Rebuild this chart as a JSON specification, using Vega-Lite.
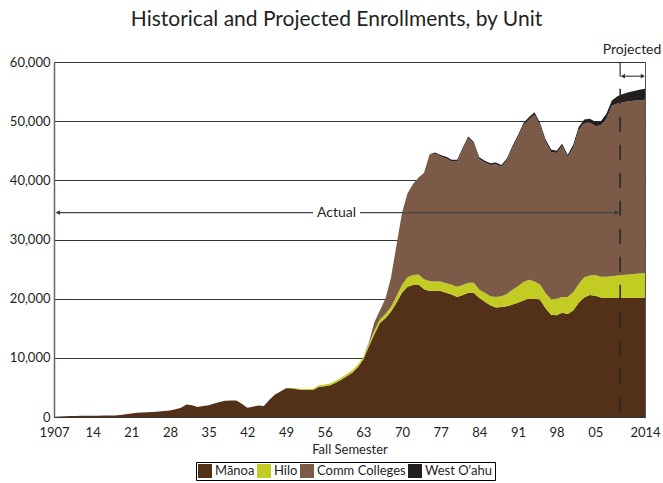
{
  "$schema": "https://vega.github.io/schema/vega-lite/v6.json",
  "width": 591,
  "height": 355,
  "autosize": {"type": "none"},
  "padding": {"left": 54, "top": 62, "right": 18, "bottom": 66},
  "background": "white",
  "config": {
    "font": "Lato",
    "view": {"stroke": "#555", "strokeWidth": 1},
    "axis": {"labelColor": "#231f20", "titleColor": "#231f20", "labelFont": "Lato", "titleFont": "Lato", "labelOverlap": false},
    "axisX": {"labelOverlap": false, "labelFlush": false, "labelBound": false},
    "axisY": {"labelOverlap": false, "labelFlush": false},
    "legend": {"labelFont": "Lato", "labelColor": "#231f20"}
  },
  "title": {
    "text": "Historical and Projected Enrollments, by Unit",
    "fontSize": 21,
    "fontWeight": "normal",
    "font": "Lato",
    "color": "#231f20",
    "anchor": "middle",
    "frame": "group",
    "dx": -13,
    "offset": 13
  },
  "encoding": {
    "x": {
      "field": "yr", "type": "quantitative",
      "scale": {"domain": [1907, 2014], "nice": false, "zero": false},
      "axis": {
        "values": [1907,1914,1921,1928,1935,1942,1949,1956,1963,1970,1977,1984,1991,1998,2005,2014],
        "format": "d",
        "labelExpr": "datum.value == 1907 || datum.value == 2014 ? datum.label : slice(datum.label, 2)",
        "title": "Fall Semester",
        "grid": false, "ticks": false, "domain": false,
        "labelFontSize": 13, "labelPadding": 9, "labelFlush": false, "labelOverlap": false, "labelBound": false,
        "titleFontSize": 13, "titleFontWeight": "normal", "titlePadding": 4
      }
    }
  },
  "layer": [
    {
      "data": {"values": [
        {"yr":1907,"a":50,"b":0,"c":0,"d":0},
        {"yr":1908,"a":100,"b":0,"c":0,"d":0},
        {"yr":1909,"a":120,"b":0,"c":0,"d":0},
        {"yr":1910,"a":150,"b":0,"c":0,"d":0},
        {"yr":1911,"a":170,"b":0,"c":0,"d":0},
        {"yr":1912,"a":200,"b":0,"c":0,"d":0},
        {"yr":1913,"a":210,"b":0,"c":0,"d":0},
        {"yr":1914,"a":220,"b":0,"c":0,"d":0},
        {"yr":1915,"a":230,"b":0,"c":0,"d":0},
        {"yr":1916,"a":240,"b":0,"c":0,"d":0},
        {"yr":1917,"a":250,"b":0,"c":0,"d":0},
        {"yr":1918,"a":270,"b":0,"c":0,"d":0},
        {"yr":1919,"a":350,"b":0,"c":0,"d":0},
        {"yr":1920,"a":450,"b":0,"c":0,"d":0},
        {"yr":1921,"a":600,"b":0,"c":0,"d":0},
        {"yr":1922,"a":700,"b":0,"c":0,"d":0},
        {"yr":1923,"a":750,"b":0,"c":0,"d":0},
        {"yr":1924,"a":800,"b":0,"c":0,"d":0},
        {"yr":1925,"a":850,"b":0,"c":0,"d":0},
        {"yr":1926,"a":950,"b":0,"c":0,"d":0},
        {"yr":1927,"a":1000,"b":0,"c":0,"d":0},
        {"yr":1928,"a":1100,"b":0,"c":0,"d":0},
        {"yr":1929,"a":1300,"b":0,"c":0,"d":0},
        {"yr":1930,"a":1550,"b":0,"c":0,"d":0},
        {"yr":1931,"a":2100,"b":0,"c":0,"d":0},
        {"yr":1932,"a":2000,"b":0,"c":0,"d":0},
        {"yr":1933,"a":1700,"b":0,"c":0,"d":0},
        {"yr":1934,"a":1850,"b":0,"c":0,"d":0},
        {"yr":1935,"a":2000,"b":0,"c":0,"d":0},
        {"yr":1936,"a":2300,"b":0,"c":0,"d":0},
        {"yr":1937,"a":2550,"b":0,"c":0,"d":0},
        {"yr":1938,"a":2750,"b":0,"c":0,"d":0},
        {"yr":1939,"a":2800,"b":0,"c":0,"d":0},
        {"yr":1940,"a":2800,"b":0,"c":0,"d":0},
        {"yr":1941,"a":2250,"b":0,"c":0,"d":0},
        {"yr":1942,"a":1550,"b":0,"c":0,"d":0},
        {"yr":1943,"a":1750,"b":0,"c":0,"d":0},
        {"yr":1944,"a":1950,"b":0,"c":0,"d":0},
        {"yr":1945,"a":1850,"b":0,"c":0,"d":0},
        {"yr":1946,"a":2900,"b":0,"c":0,"d":0},
        {"yr":1947,"a":3800,"b":0,"c":0,"d":0},
        {"yr":1948,"a":4300,"b":0,"c":0,"d":0},
        {"yr":1949,"a":4850,"b":0,"c":0,"d":0},
        {"yr":1950,"a":4850,"b":50,"c":0,"d":0},
        {"yr":1951,"a":4700,"b":100,"c":0,"d":0},
        {"yr":1952,"a":4600,"b":150,"c":0,"d":0},
        {"yr":1953,"a":4550,"b":200,"c":0,"d":0},
        {"yr":1954,"a":4600,"b":220,"c":0,"d":0},
        {"yr":1955,"a":5100,"b":250,"c":0,"d":0},
        {"yr":1956,"a":5200,"b":280,"c":0,"d":0},
        {"yr":1957,"a":5350,"b":300,"c":0,"d":0},
        {"yr":1958,"a":5800,"b":320,"c":0,"d":0},
        {"yr":1959,"a":6300,"b":350,"c":0,"d":0},
        {"yr":1960,"a":6900,"b":370,"c":0,"d":0},
        {"yr":1961,"a":7500,"b":400,"c":0,"d":0},
        {"yr":1962,"a":8400,"b":420,"c":0,"d":0},
        {"yr":1963,"a":9700,"b":450,"c":0,"d":0},
        {"yr":1964,"a":11900,"b":500,"c":200,"d":0},
        {"yr":1965,"a":14000,"b":600,"c":1400,"d":0},
        {"yr":1966,"a":15900,"b":600,"c":1500,"d":0},
        {"yr":1967,"a":16700,"b":700,"c":2600,"d":0},
        {"yr":1968,"a":17800,"b":800,"c":4900,"d":0},
        {"yr":1969,"a":19300,"b":1100,"c":8600,"d":0},
        {"yr":1970,"a":21000,"b":1300,"c":12200,"d":0},
        {"yr":1971,"a":22000,"b":1600,"c":14200,"d":0},
        {"yr":1972,"a":22300,"b":1700,"c":15400,"d":0},
        {"yr":1973,"a":22400,"b":1700,"c":16400,"d":0},
        {"yr":1974,"a":21600,"b":1700,"c":18000,"d":0},
        {"yr":1975,"a":21300,"b":1700,"c":21400,"d":0},
        {"yr":1976,"a":21300,"b":1600,"c":21600,"d":200},
        {"yr":1977,"a":21300,"b":1600,"c":21150,"d":250},
        {"yr":1978,"a":21000,"b":1600,"c":21100,"d":300},
        {"yr":1979,"a":20700,"b":1650,"c":20850,"d":300},
        {"yr":1980,"a":20300,"b":1700,"c":21200,"d":300},
        {"yr":1981,"a":20600,"b":1700,"c":22900,"d":300},
        {"yr":1982,"a":21000,"b":1700,"c":24400,"d":300},
        {"yr":1983,"a":21000,"b":1700,"c":23500,"d":300},
        {"yr":1984,"a":20100,"b":1400,"c":22100,"d":300},
        {"yr":1985,"a":19500,"b":1500,"c":22000,"d":300},
        {"yr":1986,"a":18900,"b":1500,"c":22200,"d":300},
        {"yr":1987,"a":18500,"b":1800,"c":22400,"d":300},
        {"yr":1988,"a":18600,"b":1800,"c":21900,"d":300},
        {"yr":1989,"a":18700,"b":2100,"c":22600,"d":300},
        {"yr":1990,"a":19000,"b":2500,"c":23950,"d":350},
        {"yr":1991,"a":19300,"b":2800,"c":25150,"d":350},
        {"yr":1992,"a":19700,"b":3100,"c":26550,"d":350},
        {"yr":1993,"a":20000,"b":3200,"c":27100,"d":400},
        {"yr":1994,"a":20000,"b":2900,"c":28200,"d":400},
        {"yr":1995,"a":19800,"b":2600,"c":26900,"d":400},
        {"yr":1996,"a":18400,"b":2500,"c":25600,"d":400},
        {"yr":1997,"a":17300,"b":2600,"c":24900,"d":400},
        {"yr":1998,"a":17200,"b":2800,"c":24600,"d":400},
        {"yr":1999,"a":17600,"b":2700,"c":25500,"d":400},
        {"yr":2000,"a":17400,"b":2900,"c":23600,"d":400},
        {"yr":2001,"a":18000,"b":3100,"c":24400,"d":500},
        {"yr":2002,"a":19300,"b":3200,"c":25950,"d":550},
        {"yr":2003,"a":20200,"b":3400,"c":26100,"d":600},
        {"yr":2004,"a":20600,"b":3300,"c":25850,"d":650},
        {"yr":2005,"a":20500,"b":3500,"c":25200,"d":700},
        {"yr":2006,"a":20200,"b":3500,"c":25550,"d":750},
        {"yr":2007,"a":20100,"b":3600,"c":26650,"d":850},
        {"yr":2008,"a":20100,"b":3700,"c":28800,"d":900},
        {"yr":2009,"a":20100,"b":3800,"c":29100,"d":1200},
        {"yr":2010,"a":20100,"b":3900,"c":29200,"d":1400},
        {"yr":2011,"a":20100,"b":4000,"c":29250,"d":1550},
        {"yr":2012,"a":20100,"b":4050,"c":29300,"d":1650},
        {"yr":2013,"a":20150,"b":4100,"c":29300,"d":1750},
        {"yr":2014,"a":20200,"b":4150,"c":29250,"d":1900}
      ]},
      "transform": [{"fold": ["a", "b", "c", "d"], "as": ["unit", "n"]}],
      "mark": {"type": "area", "interpolate": "linear"},
      "encoding": {
        "y": {
          "field": "n", "type": "quantitative", "stack": "zero",
          "scale": {"domain": [0, 60000], "nice": false},
          "axis": {
            "values": [0,10000,20000,30000,40000,50000,60000],
            "format": ",d", "title": null,
            "grid": true, "gridColor": "#333", "gridWidth": 1,
            "ticks": false, "domainColor": "#666", "domainWidth": 1.5,
            "labelFontSize": 13, "labelPadding": 4, "labelFlush": false, "labelOverlap": false
          }
        },
        "order": {"field": "unit", "sort": "ascending"},
        "color": {
          "field": "unit", "type": "nominal",
          "scale": {"domain": ["a", "b", "c", "d"], "range": ["#533119", "#c3cc22", "#7b5b47", "#231f20"]},
          "legend": {
            "orient": "none", "legendX": 142, "legendY": 400,
            "direction": "horizontal", "title": null,
            "strokeColor": "#000", "padding": 2,
            "symbolType": "square", "symbolSize": 196, "symbolStrokeWidth": 0, "symbolOpacity": 1,
            "labelFontSize": 13, "labelOffset": 3, "columnPadding": 2,
            "labelExpr": "datum.label == 'a' ? 'Mānoa' : datum.label == 'b' ? 'Hilo' : datum.label == 'c' ? 'Comm Colleges' : \"West O'ahu\""
          }
        }
      }
    },
    {
      "data": {"values": [
        {"yr": 1907.5, "yr2": 1953.9, "n": 34550},
        {"yr": 1962.4, "yr2": 2009.1, "n": 34550},
        {"yr": 2009.8, "yr2": 2013.8, "n": 57600}
      ]},
      "mark": {"type": "rule", "color": "#444", "strokeWidth": 1.2},
      "encoding": {
        "x2": {"field": "yr2"},
        "y": {"field": "n", "type": "quantitative"}
      }
    },
    {
      "data": {"values": [
        {"yr": 2009.5, "n": 57500, "n2": 60000}
      ]},
      "mark": {"type": "rule", "color": "#333", "strokeWidth": 1.2},
      "encoding": {
        "y": {"field": "n", "type": "quantitative"},
        "y2": {"field": "n2"}
      }
    },
    {
      "data": {"values": [
        {"yr": 2009.5, "n": 55500, "n2": 0}
      ]},
      "mark": {"type": "rule", "color": "#2a2420", "strokeWidth": 1.5, "strokeDash": [15, 13]},
      "encoding": {
        "y": {"field": "n", "type": "quantitative"},
        "y2": {"field": "n2"}
      }
    },
    {
      "data": {"values": [
        {"yr": 1907.7, "n": 34550, "s": "triangle-left"},
        {"yr": 2008.9, "n": 34550, "s": "triangle-right"},
        {"yr": 2010.0, "n": 57600, "s": "triangle-left"},
        {"yr": 2013.6, "n": 57600, "s": "triangle-right"}
      ]},
      "mark": {"type": "point", "filled": true, "color": "#333", "size": 22, "opacity": 1},
      "encoding": {
        "y": {"field": "n", "type": "quantitative"},
        "shape": {"field": "s", "type": "nominal", "scale": null, "legend": null}
      }
    },
    {
      "data": {"values": [
        {"yr": 1958.15, "n": 34550, "t": "Actual"},
        {"yr": 2011.65, "n": 61950, "t": "Projected"}
      ]},
      "mark": {"type": "text", "font": "Lato", "fontSize": 14, "color": "#231f20", "align": "center", "baseline": "middle"},
      "encoding": {
        "y": {"field": "n", "type": "quantitative"},
        "text": {"field": "t", "type": "nominal"}
      }
    }
  ]
}
